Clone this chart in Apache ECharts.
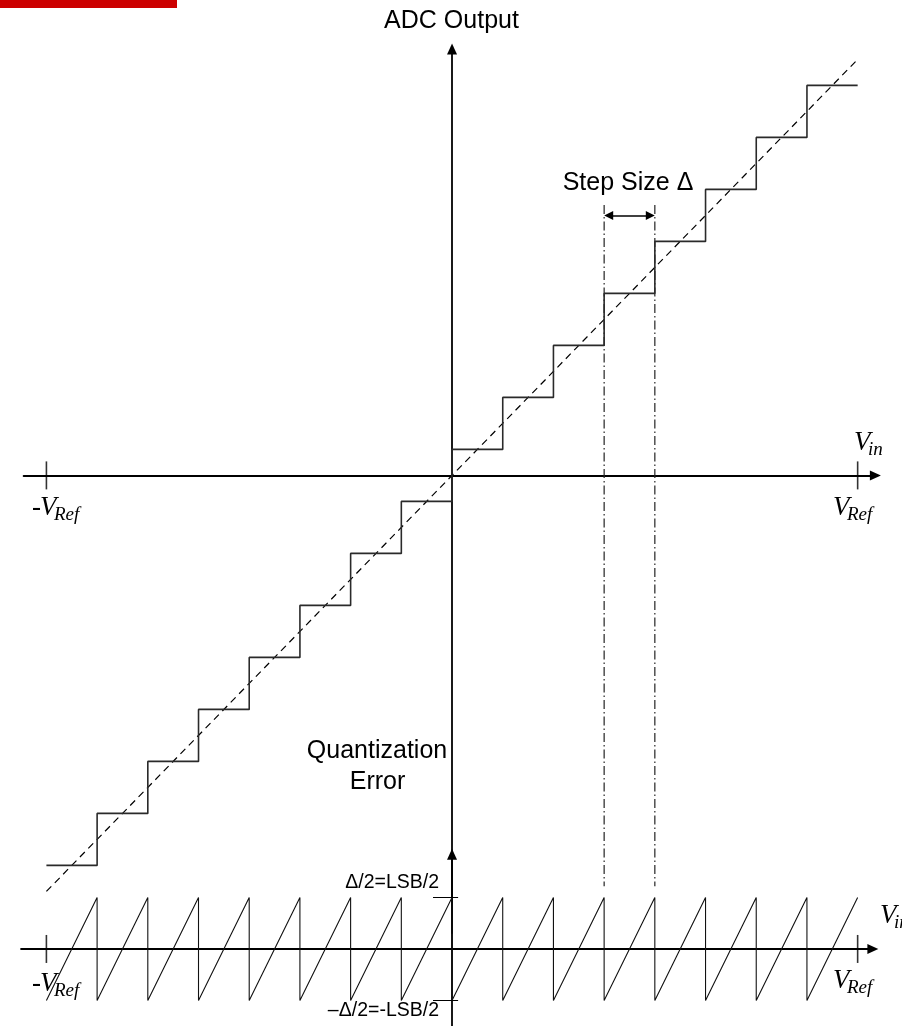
<!DOCTYPE html>
<html><head><meta charset="utf-8">
<script src="https://cdn.jsdelivr.net/npm/echarts@6/dist/echarts.min.js"></script>
<style>html,body{margin:0;padding:0;background:#fff}#c{width:902px;height:1026px}</style>
</head><body><div id="c"></div>
<script>
// ---- data (units of one step size Δ; ±VRef = ±8Δ) ----
const stepEdges = [-8,-7,-6,-5,-4,-3,-2,-1,0,1,2,3,4,5,6,7,8];
const outputLevels = [-7.5,-6.5,-5.5,-4.5,-3.5,-2.5,-1.5,-0.5,0.5,1.5,2.5,3.5,4.5,5.5,6.5,7.5];
const idealX = [-8, 8];
const idealY = [-8, 8];
const errorBounds = [-0.5, 0.5];          // -Δ/2 , Δ/2
const stepMarkerX = [3, 4];
const stepMarkerY = [5.2, -7.9];
const stepArrowY = 5;
const refTicks = [-8, 8];

const stairData = stepEdges.map((x, i) => [x, outputLevels[Math.min(i, outputLevels.length - 1)]]);
const sawData = [];
for (let i = 0; i < outputLevels.length; i++) {
  sawData.push([stepEdges[i], errorBounds[0]]);
  sawData.push([stepEdges[i + 1], errorBounds[1]]);
}

const chart = echarts.init(document.getElementById('c'), null, {renderer: 'canvas'});
const axisLineStyle = {color: '#000', width: 1.8};
function valAxis(extra) {
  return Object.assign({
    type: 'value',
    axisLine: {show: true, onZero: true, symbol: ['none', 'triangle'], symbolSize: [10, 11], lineStyle: axisLineStyle},
    axisTick: {show: false}, axisLabel: {show: false}, splitLine: {show: false}
  }, extra);
}
const sans = '"Liberation Sans", Arial, sans-serif';
const serif = '"Liberation Serif", "Times New Roman", serif';
function txt(text, x, y, size, opts) {
  opts = opts || {};
  return {type: 'text', x: x, y: y, z: 100, style: {
    text: text, fill: '#000',
    font: (opts.italic ? 'italic ' : '') + size + 'px ' + (opts.serif ? serif : sans),
    textAlign: opts.align || 'left', textVerticalAlign: 'middle'}};
}
function vref(x, baseV, sub) {
  return [txt('V', x, baseV - 9, 27, {italic: true, serif: true}),
          txt(sub, x + 14, baseV - 2, 19, {italic: true, serif: true})];
}

const option = {
  animation: false,
  backgroundColor: '#fff',
  grid: [
    {left: 23.6, top: 49, width: 851.8, height: 884, containLabel: false, outerBoundsMode: 'none'},
    {left: 21.05, top: 854.2, width: 851.8, height: 172, containLabel: false, outerBoundsMode: 'none'}
  ],
  xAxis: [valAxis({gridIndex: 0, min: -8.45, max: 8.35}), valAxis({gridIndex: 1, min: -8.5, max: 8.3})],
  yAxis: [valAxis({gridIndex: 0, min: -8.8, max: 8.2}), valAxis({gridIndex: 1, min: -0.75, max: 0.92})],
  series: [
    {type: 'line', name: 'ideal', xAxisIndex: 0, yAxisIndex: 0, showSymbol: false, silent: true, z: 2,
     data: idealX.map((x, i) => [x, idealY[i]]),
     lineStyle: {color: '#000', width: 1.2, type: [7, 5]}},
    {type: 'line', name: 'stairs', xAxisIndex: 0, yAxisIndex: 0, showSymbol: false, silent: true, step: 'end', z: 3,
     data: stairData, lineStyle: {color: '#2a2a2a', width: 1.6}},
    ...stepMarkerX.map(x => ({type: 'line', xAxisIndex: 0, yAxisIndex: 0, showSymbol: false, silent: true, z: 2,
     data: stepMarkerY.map(y => [x, y]), lineStyle: {color: '#222', width: 1.2, type: [9, 3, 1.5, 3]}})),
    {type: 'lines', coordinateSystem: 'cartesian2d', xAxisIndex: 0, yAxisIndex: 0, silent: true, z: 4,
     symbol: ['triangle', 'triangle'], symbolSize: 9,
     data: [{coords: [[stepMarkerX[0] + 0.09, stepArrowY], [stepMarkerX[1] - 0.09, stepArrowY]]}],
     lineStyle: {color: '#000', width: 1.5, opacity: 1}},
    {type: 'scatter', xAxisIndex: 0, yAxisIndex: 0, symbol: 'rect', symbolSize: [1.6, 28], silent: true, z: 5,
     itemStyle: {color: '#000'}, data: refTicks.map(x => [x, 0])},
    {type: 'line', name: 'error', xAxisIndex: 1, yAxisIndex: 1, showSymbol: false, silent: true, z: 3,
     data: sawData, lineStyle: {color: '#111', width: 1.1}},
    {type: 'scatter', xAxisIndex: 1, yAxisIndex: 1, symbol: 'rect', symbolSize: [1.6, 28], silent: true, z: 5,
     itemStyle: {color: '#000'}, data: refTicks.map(x => [x, 0])},
    ...errorBounds.map(y => ({type: 'line', xAxisIndex: 1, yAxisIndex: 1, showSymbol: false, silent: true, z: 5,
     data: [[-0.375, y], [0.12, y]], lineStyle: {color: '#000', width: 1.1}}))
  ],
  graphic: [
    {type: 'rect', shape: {x: 0, y: 0, width: 177, height: 8}, style: {fill: '#cc0000'}, z: 100},
    txt('ADC Output', 451.5, 21, 25, {align: 'center'}),
    txt('Step Size \u0394', 628, 183, 25, {align: 'center'}),
    txt('Quantization', 377, 751, 25, {align: 'center'}),
    txt('Error', 377.5, 782, 25, {align: 'center'}),
    txt('\u0394/2=LSB/2', 439, 883, 19.5, {align: 'right'}),
    txt('\u2013\u0394/2=-LSB/2', 439, 1011, 19.5, {align: 'right'}),
    txt('-', 32, 508, 27, {serif: true}),
    ...vref(40, 517, 'Ref'),
    ...vref(854, 452, 'in'),
    ...vref(833, 517, 'Ref'),
    txt('-', 32, 984, 27, {serif: true}),
    ...vref(40, 993, 'Ref'),
    ...vref(833, 990, 'Ref'),
    ...vref(880, 925, 'in')
  ]
};
chart.setOption(option);
</script></body></html>
